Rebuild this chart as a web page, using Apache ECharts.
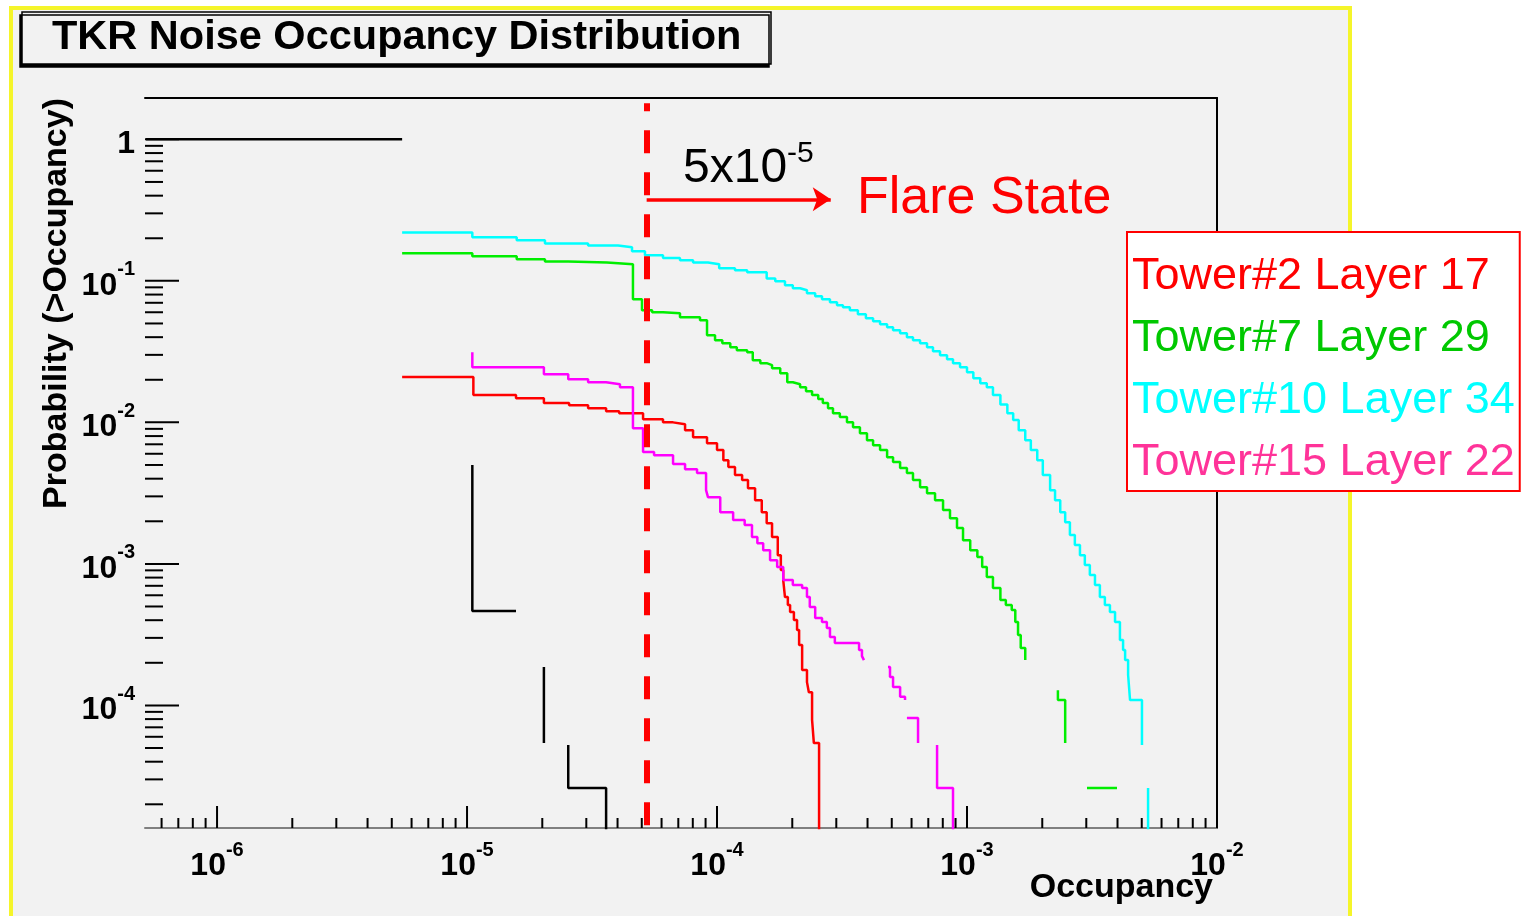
<!DOCTYPE html>
<html><head><meta charset="utf-8">
<script src="https://cdn.jsdelivr.net/npm/echarts@6/dist/echarts.min.js"></script>
<style>html,body{margin:0;padding:0;background:#fff;}#c{width:1525px;height:916px;}</style>
</head><body><div id="c"></div>
<script>
// ---- axis ranges / ticks ----
const X_MIN = 5.15e-7, X_MAX = 1e-2;
const Y_MIN = 1.36e-5, Y_MAX = 1.96;
const xDecadeExponents = [-7, -6, -5, -4, -3, -2];
const yDecadeExponents = [-5, -4, -3, -2, -1, 0];
const minorMultipliers = [2, 3, 4, 5, 6, 7, 8, 9];

// ---- names ----
const titleText = 'TKR Noise Occupancy Distribution';
const xAxisName = 'Occupancy';
const yAxisName = 'Probability (>Occupancy)';
const seriesNames = ['Tower#2 Layer 17', 'Tower#7 Layer 29', 'Tower#10 Layer 34', 'Tower#15 Layer 22'];
const lineColors = ['#ff0000', '#00ee00', '#00ffff', '#ff00ff'];
const legendTextColors = ['#ff0000', '#00c800', '#00ffff', '#ff3399'];

// ---- annotation values ----
const flareThreshold = 5.23e-5;
const dashTop = 1.8;
const arrowEnd = 2.85e-4;
const arrowLevel = 0.377;

// ---- data: [occupancy, probability(>occupancy)], null = gap ----
const totalData = [[5.2e-7, 1], [5.50e-6, 1], null,
  [1.05e-5, 4.99e-3], [1.05e-5, 4.64e-4], [1.57e-5, 4.64e-4], null,
  [2.03e-5, 1.87e-4], [2.03e-5, 5.42e-5], null,
  [2.54e-5, 5.25e-5], [2.54e-5, 2.61e-5], [3.60e-5, 2.61e-5], [3.60e-5, 1e-7]];

const tower2Data = [[5.50e-6, 0.0209], [1.06e-5, 0.0156], [1.57e-5, 0.0148], [2.03e-5, 0.0137], [2.56e-5, 0.0132],
  [3.05e-5, 0.0126], [3.60e-5, 0.0120], [4.06e-5, 0.0116], [5.06e-5, 0.0105], [6.08e-5, 0.0100], [6.67e-5, 0.00971],
  [7.45e-5, 0.00881], [8.02e-5, 0.00786], [9.12e-5, 0.00713], [1.00e-4, 0.00637], [1.06e-4, 0.00541], [1.11e-4, 0.00483],
  [1.18e-4, 0.00424], [1.26e-4, 0.00391], [1.33e-4, 0.00343], [1.42e-4, 0.00282], [1.51e-4, 0.00232], [1.58e-4, 0.00194],
  [1.66e-4, 0.00155], [1.75e-4, 0.00115], [1.80e-4, 9.04e-4], [1.84e-4, 7.69e-4], [1.87e-4, 5.83e-4], [1.92e-4, 5.12e-4],
  [1.96e-4, 4.57e-4], [2.03e-4, 4.01e-4], [2.09e-4, 3.41e-4], [2.13e-4, 2.67e-4], [2.19e-4, 1.78e-4], [2.29e-4, 1.46e-4],
  [2.33e-4, 1.24e-4], [2.40e-4, 7.89e-5], [2.44e-4, 5.42e-5], [2.56e-4, 1e-7]];

const tower7Data = [[5.50e-6, 0.157], [1.05e-5, 0.149], [1.58e-5, 0.142], [2.05e-5, 0.137], [2.54e-5, 0.135],
  [3.63e-5, 0.131], [4.61e-5, 0.0741], [5.01e-5, 0.0620], [5.50e-5, 0.0600], [6.08e-5, 0.0590], [7.11e-5, 0.0553],
  [8.55e-5, 0.0527], [9.12e-5, 0.0413], [9.82e-5, 0.0381], [1.05e-4, 0.0362], [1.13e-4, 0.0340], [1.20e-4, 0.0324],
  [1.32e-4, 0.0313], [1.39e-4, 0.0275], [1.49e-4, 0.0262], [1.58e-4, 0.0254], [1.66e-4, 0.0241], [1.79e-4, 0.0222],
  [1.91e-4, 0.0192], [2.01e-4, 0.0186], [2.15e-4, 0.0177], [2.27e-4, 0.0166], [2.40e-4, 0.0156], [2.54e-4, 0.0146],
  [2.65e-4, 0.0137], [2.78e-4, 0.0126], [2.91e-4, 0.0116], [3.10e-4, 0.0109], [3.31e-4, 0.0100], [3.50e-4, 0.00925],
  [3.73e-4, 0.00839], [3.98e-4, 0.00748], [4.21e-4, 0.00690], [4.49e-4, 0.00637], [4.79e-4, 0.00568], [5.06e-4, 0.00524],
  [5.40e-4, 0.00475], [5.75e-4, 0.00438], [6.08e-4, 0.00391], [6.49e-4, 0.00348], [6.92e-4, 0.00316], [7.45e-4, 0.00282],
  [8.02e-4, 0.00240], [8.55e-4, 0.00210], [9.12e-4, 0.00179], [9.64e-4, 0.00147], [1.03e-3, 0.00125], [1.10e-3, 0.00112],
  [1.15e-3, 9.49e-4], [1.20e-3, 8.07e-4], [1.27e-3, 6.75e-4], [1.36e-3, 5.55e-4], [1.43e-3, 5.12e-4], [1.51e-3, 4.72e-4],
  [1.56e-3, 3.88e-4], [1.60e-3, 3.14e-4], [1.64e-3, 2.54e-4], [1.71e-3, 2.09e-4], null,
  [2.31e-3, 1.28e-4], [2.31e-3, 1.09e-4], [2.47e-3, 5.42e-5], null,
  [3.02e-3, 2.61e-5], [3.98e-3, 2.61e-5]];

const tower10Data = [[5.50e-6, 0.220], [1.05e-5, 0.203], [1.58e-5, 0.194], [2.05e-5, 0.184], [3.05e-5, 0.178],
  [4.02e-5, 0.173], [4.57e-5, 0.162], [5.15e-5, 0.152], [6.08e-5, 0.145], [7.11e-5, 0.140], [8.02e-5, 0.135],
  [9.20e-5, 0.131], [1.02e-4, 0.123], [1.18e-4, 0.119], [1.32e-4, 0.115], [1.58e-4, 0.104], [1.71e-4, 0.0994],
  [1.87e-4, 0.0931], [2.01e-4, 0.0887], [2.15e-4, 0.0859], [2.29e-4, 0.0817], [2.47e-4, 0.0778], [2.63e-4, 0.0741],
  [2.83e-4, 0.0706], [3.02e-4, 0.0673], [3.19e-4, 0.0651], [3.40e-4, 0.0620], [3.66e-4, 0.0581], [3.94e-4, 0.0545],
  [4.21e-4, 0.0519], [4.49e-4, 0.0494], [4.79e-4, 0.0470], [5.06e-4, 0.0448], [5.40e-4, 0.0427], [5.75e-4, 0.0400],
  [6.08e-4, 0.0381], [6.49e-4, 0.0362], [6.92e-4, 0.0340], [7.31e-4, 0.0318], [7.80e-4, 0.0298], [8.32e-4, 0.0279],
  [8.79e-4, 0.0262], [9.38e-4, 0.0245], [1.00e-3, 0.0226], [1.06e-3, 0.0205], [1.13e-3, 0.0189], [1.20e-3, 0.0177],
  [1.27e-3, 0.0156], [1.36e-3, 0.0134], [1.45e-3, 0.0116], [1.53e-3, 0.0104], [1.61e-3, 0.00881], [1.71e-3, 0.00748],
  [1.80e-3, 0.00637], [1.91e-3, 0.00541], [2.01e-3, 0.00424], [2.15e-3, 0.00332], [2.25e-3, 0.00282], [2.36e-3, 0.00232],
  [2.47e-3, 0.00197], [2.58e-3, 0.00160], [2.70e-3, 0.00136], [2.83e-3, 0.00115], [2.96e-3, 9.81e-4], [3.10e-3, 8.34e-4],
  [3.25e-3, 7.08e-4], [3.40e-3, 5.83e-4], [3.56e-3, 5.12e-4], [3.73e-3, 4.57e-4], [3.91e-3, 3.88e-4], [4.09e-3, 2.90e-4],
  [4.21e-3, 2.46e-4], [4.29e-3, 2.09e-4], [4.41e-3, 1.64e-4], [4.49e-3, 1.09e-4], [5.01e-3, 5.25e-5], null,
  [5.30e-3, 2.61e-5], [5.30e-3, 1e-7]];

const tower15Data = [[1.05e-5, 0.0313], [1.05e-5, 0.0245], [2.03e-5, 0.0219], [2.54e-5, 0.0202], [3.05e-5, 0.0192],
  [3.60e-5, 0.0186], [4.09e-5, 0.0177], [4.61e-5, 0.00910], [5.06e-5, 0.00617], [5.60e-5, 0.00586], [6.67e-5, 0.00507],
  [7.45e-5, 0.00467], [8.32e-5, 0.00438], [9.04e-5, 0.00332], [9.20e-5, 0.00296], [1.03e-4, 0.00232], [1.16e-4, 0.00204],
  [1.29e-4, 0.00188], [1.38e-4, 0.00155], [1.45e-4, 0.00140], [1.53e-4, 0.00125], [1.63e-4, 0.00106], [1.74e-4, 9.49e-4],
  [1.84e-4, 7.69e-4], [2.01e-4, 7.08e-4], [2.19e-4, 6.75e-4], [2.29e-4, 5.83e-4], [2.35e-4, 4.95e-4], [2.47e-4, 4.14e-4],
  [2.63e-4, 3.88e-4], [2.75e-4, 3.52e-4], [2.83e-4, 3.04e-4], [2.96e-4, 2.76e-4], [3.70e-4, 2.46e-4], [3.80e-4, 2.23e-4],
  [3.87e-4, 2.09e-4], null,
  [4.83e-4, 1.87e-4], [4.92e-4, 1.59e-4], [5.06e-4, 1.35e-4], [5.40e-4, 1.15e-4], [5.65e-4, 1.09e-4], null,
  [5.75e-4, 8.15e-5], [6.37e-4, 5.42e-5], null,
  [7.59e-4, 5.25e-5], [7.59e-4, 2.61e-5], [8.79e-4, 1e-7]];

const curveData = [tower2Data, tower7Data, tower10Data, tower15Data];

// ---- build options ----
const FONT = 'Liberation Sans';
const toSeries = arr => arr.map(p => p === null ? ['-', '-'] : p);

function expLabel(v) {
  const e = Math.round(Math.log10(v));
  return e === 0 ? '{n|1}' : '{n|10}{s|' + e + '}';
}
const labelRich = {
  n: { fontSize: 32, fontWeight: 'bold', fontFamily: FONT, color: '#000', lineHeight: 42, verticalAlign: 'bottom' },
  s: { fontSize: 20, fontWeight: 'bold', fontFamily: FONT, color: '#000', lineHeight: 24, verticalAlign: 'top' }
};

const tickItems = [];
xDecadeExponents.forEach(e => {
  const base = Math.pow(10, e);
  [1].concat(minorMultipliers).forEach(m => {
    const v = m * base;
    if (v >= X_MIN && v <= X_MAX * 1.0001) tickItems.push([v, Y_MIN, m === 1 ? 22 : 10, 0]);
  });
});
yDecadeExponents.forEach(e => {
  const base = Math.pow(10, e);
  [1].concat(minorMultipliers).forEach(m => {
    const v = m * base;
    if (v >= Y_MIN && v <= Y_MAX) tickItems.push([X_MIN, v, m === 1 ? 34 : 18, 1]);
  });
});

const series = [];
series.push({
  name: 'total', type: 'line', step: 'end', data: toSeries(totalData), showSymbol: false, symbol: 'none',
  connectNulls: false, lineStyle: { color: '#000', width: 2.5 }, z: 2, clip: true,
  markLine: {
    silent: true, symbol: 'none', animation: false, label: { show: false }, z: 10,
    data: [
      [{ coord: [flareThreshold, dashTop], lineStyle: { color: '#ff0000', width: 6, type: [23, 19], dashOffset: 15 } },
       { coord: [flareThreshold, Y_MIN] }],
      [{ coord: [flareThreshold, arrowLevel], symbol: 'none', lineStyle: { color: '#ff0000', width: 3.5, type: 'solid' } },
       { coord: [arrowEnd, arrowLevel], symbol: 'arrow', symbolSize: 18 }]
    ]
  }
});
seriesNames.forEach((name, i) => {
  series.push({
    name, type: 'line', step: 'end', data: toSeries(curveData[i]), showSymbol: false, symbol: 'none',
    connectNulls: false, lineStyle: { color: lineColors[i], width: 2.5 }, itemStyle: { color: lineColors[i] }, z: 3, clip: true
  });
});
series.push({
  name: 'ticks', type: 'custom', data: tickItems, silent: true, clip: false, z: 4,
  encode: { x: 0, y: 1 },
  renderItem(params, api) {
    const p = api.coord([api.value(0), api.value(1)]);
    const len = api.value(2);
    const shape = api.value(3) === 0
      ? { x1: p[0], y1: p[1], x2: p[0], y2: p[1] - len }
      : { x1: p[0], y1: p[1], x2: p[0] + len, y2: p[1] };
    return { type: 'line', shape, style: { stroke: '#000', lineWidth: 2 } };
  }
});

const chart = echarts.init(document.getElementById('c'), null, { renderer: 'canvas' });
chart.setOption({
  animation: false,
  backgroundColor: '#ffffff',
  title: {
    text: titleText, left: 22, top: 12,
    padding: [4, 30, 4, 30],
    backgroundColor: '#f2f2f2', borderColor: '#000', borderWidth: 1.5,
    shadowColor: '#000', shadowBlur: 0, shadowOffsetX: -2, shadowOffsetY: 3,
    textStyle: { fontFamily: FONT, fontWeight: 'bold', fontSize: 41.5, color: '#000', lineHeight: 44 }
  },
  grid: { left: 145, right: 308, top: 98, bottom: 88, containLabel: false, outerBoundsMode: 'none' },
  legend: {
    orient: 'vertical', left: 1127, top: 232, selectedMode: false,
    padding: [20, 5, 3, 0], itemGap: 12, itemWidth: 0, itemHeight: 0,
    backgroundColor: '#ffffff', borderColor: '#ff0000', borderWidth: 2,
    textStyle: { fontFamily: FONT, fontSize: 45, lineHeight: 50 },
    data: seriesNames.map((n, i) => ({ name: n, icon: 'rect', textStyle: { color: legendTextColors[i] } }))
  },
  xAxis: [{
    type: 'log', logBase: 10, min: X_MIN, max: X_MAX, position: 'bottom',
    axisLine: { show: true, lineStyle: { color: '#808080', width: 2 } },
    axisTick: { show: false }, splitLine: { show: false }, minorTick: { show: false },
    axisLabel: { show: true, margin: 12, showMinLabel: false, formatter: expLabel, rich: labelRich }
  }, {
    type: 'log', logBase: 10, min: X_MIN, max: X_MAX, position: 'top',
    axisLine: { show: true, lineStyle: { color: '#000', width: 2 } },
    axisTick: { show: false }, axisLabel: { show: false }, splitLine: { show: false }
  }],
  yAxis: [{
    type: 'log', logBase: 10, min: Y_MIN, max: Y_MAX, position: 'left',
    axisLine: { show: false }, axisTick: { show: false }, splitLine: { show: false },
    axisLabel: { show: true, margin: 10, showMinLabel: false, showMaxLabel: false, formatter: expLabel, rich: labelRich }
  }, {
    type: 'log', logBase: 10, min: Y_MIN, max: Y_MAX, position: 'right',
    axisLine: { show: true, lineStyle: { color: '#000', width: 2 } },
    axisTick: { show: false }, axisLabel: { show: false }, splitLine: { show: false }
  }],
  graphic: [
    { type: 'rect', z: -100, shape: { x: 11, y: 8, width: 1339, height: 920 },
      style: { fill: '#f2f2f2', stroke: '#f5f52a', lineWidth: 4 } },
    { type: 'text', z: 20, x: 1213, y: 888,
      style: { text: xAxisName, fontFamily: FONT, fontWeight: 'bold', fontSize: 34, fill: '#000', align: 'right', verticalAlign: 'middle' } },
    { type: 'text', z: 20, x: 57, y: 98, rotation: Math.PI / 2,
      style: { text: yAxisName, fontFamily: FONT, fontWeight: 'bold', fontSize: 34, fill: '#000', align: 'right', verticalAlign: 'middle' } },
    { type: 'text', z: 20, x: 683, y: 166,
      style: { text: '{a|5x10}{b|-5}', fill: '#000', align: 'left', verticalAlign: 'middle',
        rich: { a: { fontFamily: FONT, fontSize: 48, lineHeight: 54, verticalAlign: 'bottom', fill: '#000' },
                b: { fontFamily: FONT, fontSize: 30, lineHeight: 30, verticalAlign: 'top', fill: '#000' } } } },
    { type: 'text', z: 20, x: 857, y: 199,
      style: { text: 'Flare State', fontFamily: FONT, fontSize: 52, fill: '#ff0000', align: 'left', verticalAlign: 'middle' } }
  ],
  series
});
</script></body></html>
